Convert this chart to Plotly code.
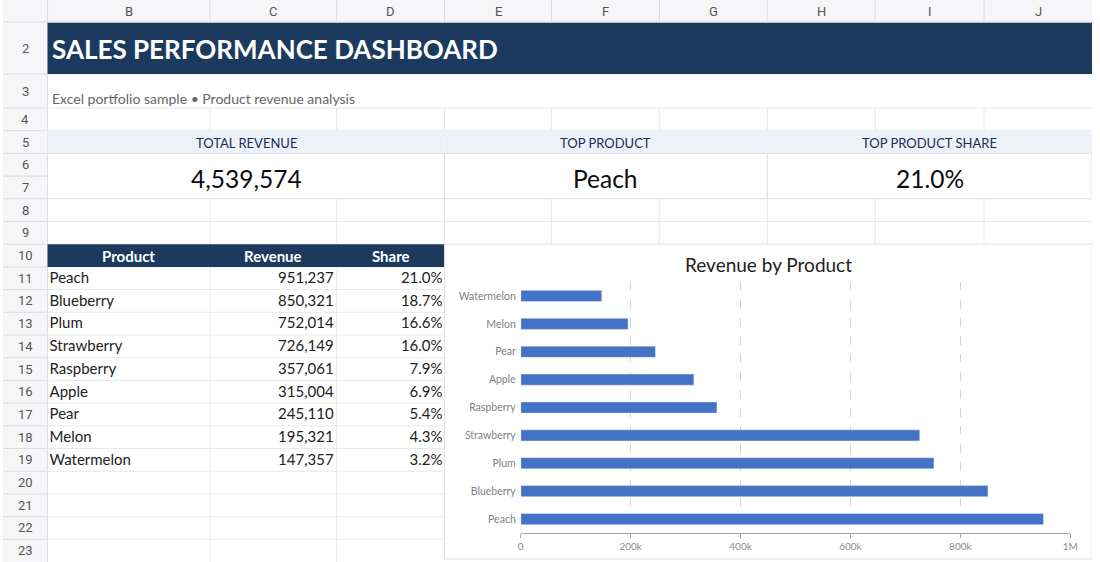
import plotly.graph_objects as go

# ---- data ----
products = ["Peach", "Blueberry", "Plum", "Strawberry", "Raspberry",
            "Apple", "Pear", "Melon", "Watermelon"]
revenue = [951237, 850321, 752014, 726149, 357061, 315004, 245110, 195321, 147357]
share = [21.0, 18.7, 16.6, 16.0, 7.9, 6.9, 5.4, 4.3, 3.2]

col_letters = ["B", "C", "D", "E", "F", "G", "H", "I", "J"]
row_numbers = list(range(2, 24))
table_headers = ["Product", "Revenue", "Share"]
kpi_labels = ["TOTAL REVENUE", "TOP PRODUCT", "TOP PRODUCT SHARE"]
x_ticks = [0, 200000, 400000, 600000, 800000, 1000000]
x_tick_text = ["0", "200k", "400k", "600k", "800k", "1M"]

total = sum(revenue)
top_i = revenue.index(max(revenue))
kpi_values = [f"{total:,}", products[top_i], f"{share[top_i]:.1f}%"]

# ---- sheet geometry (pixels) ----
W, H = 1100, 562
col_edges = [45, 209, 337, 446, 554, 663, 772, 881, 991, 1100]
HDR = 22
row_tops = {2: 22.7, 3: 74}
for r in range(4, 24):
    row_tops[r] = 108 + (r - 4) * 22.7
row_tops[24] = H


def mid(r):
    return (row_tops[r] + row_tops[r + 1]) / 2


NAVY = "#1b3a5e"
GRID = "#e7e8ec"
HEAD_BG = "#f6f5f7"
HEAD_LINE = "#dcdce0"
KPI_BAND = "#edf2f9"
KPI_LINE = "#d8dde8"
BAR = "#4472c4"
FONT = "Lato"

shapes = []


def rect(x0, y0, x1, y1, fill, line=None):
    shapes.append(dict(type="rect", xref="x", yref="y", x0=x0, y0=y0, x1=x1, y1=y1,
                       fillcolor=fill, line=dict(color=line or fill, width=1 if line else 0),
                       layer="below"))


def seg(x0, y0, x1, y1, color=GRID):
    shapes.append(dict(type="line", xref="x", yref="y", x0=x0, y0=y0, x1=x1, y1=y1,
                       line=dict(color=color, width=1), layer="below"))


# headers background
rect(0, 0, W, HDR, HEAD_BG)
rect(0, HDR, 45, H, HEAD_BG)
seg(0, HDR, W, HDR, HEAD_LINE)
seg(45, 0, 45, H, HEAD_LINE)
for x in col_edges[1:-1]:
    seg(x, 0, x, HDR, HEAD_LINE)
for r in range(3, 24):
    seg(0, row_tops[r], 45, row_tops[r], HEAD_LINE)

# sheet grid
for r in [3, 4, 5, 9, 10]:
    seg(45, row_tops[r], W, row_tops[r])
for r in [4, 8, 9]:
    for x in col_edges[1:-1]:
        seg(x, row_tops[r], x, row_tops[r + 1])
for r in range(11, 24):
    seg(45, row_tops[r], 446, row_tops[r])
for x in col_edges[1:3]:
    seg(x, row_tops[11], x, H)

# title band
rect(45, row_tops[2], W, row_tops[3], NAVY)

# kpi boxes
kpi_spans = [(45, 446), (446, 772), (772, W)]
for x0, x1 in kpi_spans:
    rect(x0, row_tops[5], x1, row_tops[6], KPI_BAND)
    seg(x0, row_tops[6], x1, row_tops[6], KPI_LINE)
    seg(x0, row_tops[8], x1, row_tops[8], KPI_LINE)
    seg(x1, row_tops[6], x1, row_tops[8], KPI_LINE)

# table header band
rect(45, row_tops[10], 446, row_tops[11], NAVY)

# chart container
rect(446, row_tops[10], W, 559, "white", "#dedfe3")

annotations = []


def label(x, y, text, size, color, xanchor="center", family=FONT):
    annotations.append(dict(x=x, y=y, xref="x", yref="y", text=text, showarrow=False,
                            xanchor=xanchor, yanchor="middle",
                            font=dict(family=family, size=size, color=color)))


for i, c in enumerate(col_letters):
    label((col_edges[i] + col_edges[i + 1]) / 2, HDR / 2 + 0.5, c, 13, "#555555", family="Roboto")
for r in row_numbers:
    label(22.5, mid(r), str(r), 13, "#555555", family="Roboto")

label(47, mid(2) + 1, "<b>SALES PERFORMANCE DASHBOARD</b>", 26, "white", "left")
label(47, 98, "Excel portfolio sample \u2022 Product revenue analysis", 14, "#666666", "left")

for (x0, x1), t, v in zip(kpi_spans, kpi_labels, kpi_values):
    label((x0 + x1) / 2, mid(5) + 0.5, t, 13, "#1a2a5a")
    label((x0 + x1) / 2, (row_tops[6] + row_tops[8]) / 2 + 2, v, 24.5, "#0a0a0a")

for i, t in enumerate(table_headers):
    label((col_edges[i] + col_edges[i + 1]) / 2, mid(10) + 0.5, f"<b>{t}</b>", 15, "white")

label(773, 264, "Revenue by Product", 19, "#222222")

fig = go.Figure()

# table body cells
row_y = [mid(11 + i) + 1 for i in range(len(products))]
cell_font = dict(family=FONT, size=15, color="#222222")
fig.add_trace(go.Scatter(x=[47] * len(products), y=row_y, text=products, mode="text",
                         textposition="middle right", textfont=cell_font, hoverinfo="skip",
                         xaxis="x", yaxis="y"))
fig.add_trace(go.Scatter(x=[334] * len(products), y=row_y, text=[f"{v:,}" for v in revenue],
                         mode="text", textposition="middle left", textfont=cell_font,
                         hoverinfo="skip", xaxis="x", yaxis="y"))
fig.add_trace(go.Scatter(x=[444] * len(products), y=row_y, text=[f"{s:.1f}%" for s in share],
                         mode="text", textposition="middle left", textfont=cell_font,
                         hoverinfo="skip", xaxis="x", yaxis="y"))

# bar chart
fig.add_trace(go.Bar(x=revenue, y=products, orientation="h", marker_color=BAR,
                     width=0.4, xaxis="x2", yaxis="y2", hoverinfo="skip"))

fig.update_layout(
    width=W, height=H, autosize=False,
    margin=dict(l=0, r=0, t=0, b=0),
    paper_bgcolor="white", plot_bgcolor="rgba(0,0,0,0)",
    showlegend=False, hovermode=False,
    shapes=shapes, annotations=annotations,
    xaxis=dict(domain=[0, 1], range=[0, W], visible=False, fixedrange=True),
    yaxis=dict(domain=[0, 1], range=[H, 0], visible=False, fixedrange=True),
    xaxis2=dict(domain=[523 / W, 1078 / W], anchor="y2", range=[0, 1000000],
                tickvals=x_ticks, ticktext=x_tick_text,
                showline=True, linecolor="#a6a6a6", ticks="outside", ticklen=4,
                tickcolor="#a6a6a6", showgrid=True, gridcolor="#d4d4d4", griddash="dash",
                zeroline=True, zerolinecolor="white",
                tickfont=dict(family=FONT, size=10, color="#8c8c8c")),
    yaxis2=dict(domain=[1 - 533 / H, 1 - 282 / H], anchor="x2", showgrid=False,
                showline=False, ticks="", ticklabelstandoff=4,
                tickfont=dict(family=FONT, size=10.5, color="#7f7f7f")),
)

fig.write_html(
    "out.html",
    config={"displayModeBar": False, "responsive": False},
    post_script=(
        "document.documentElement.style.overflow='hidden';"
        "document.body.style.margin='0';document.body.style.overflow='hidden';"
    ),
)
